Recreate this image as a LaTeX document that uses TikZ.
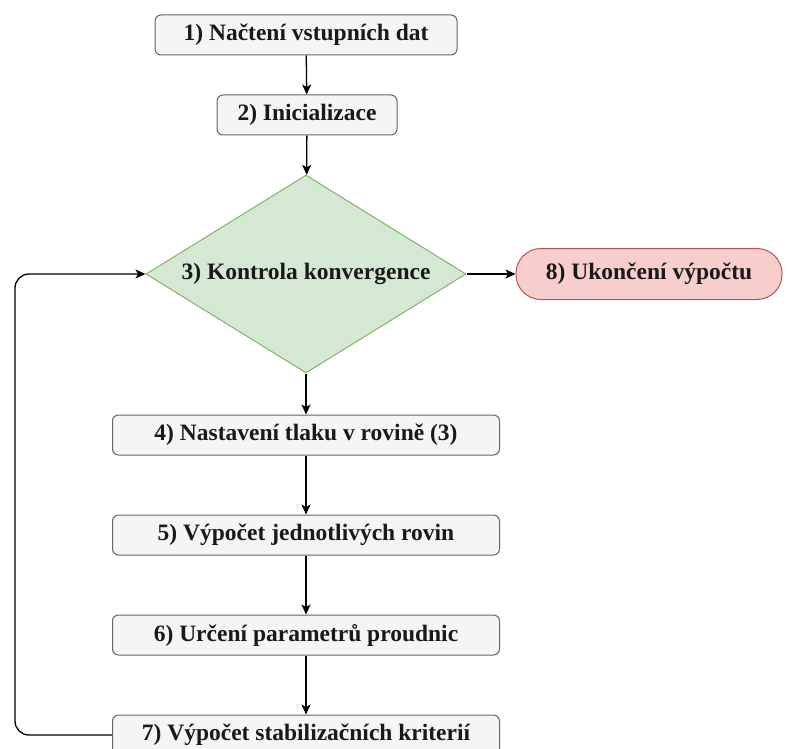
\documentclass[tikz,border=0pt]{standalone}
\usepackage{fontspec}
\setmainfont{Liberation Serif}
\usetikzlibrary{arrows.meta,shapes.geometric}

\definecolor{boxfill}{HTML}{F5F5F5}
\definecolor{boxline}{HTML}{666666}
\definecolor{decfill}{HTML}{D5E8D4}
\definecolor{decline}{HTML}{82B366}
\definecolor{endfill}{HTML}{F8CECC}
\definecolor{endline}{HTML}{B85450}

\begin{document}
\begin{tikzpicture}[
    x=1pt, y=-1pt,
    font=\fontsize{23.5}{28}\selectfont\bfseries,
    every node/.style={text=black!90, inner sep=0pt},
    process/.style={draw=boxline, fill=boxfill, line width=1pt,
      rounded corners=6pt, minimum height=40pt},
    decision/.style={diamond, draw=decline, fill=decfill, line width=1pt,
      minimum width=320pt, minimum height=198pt, shape aspect=1.6},
    terminal/.style={draw=endline, fill=endfill, line width=1pt,
      rounded corners=25pt, minimum width=266pt, minimum height=51pt},
    flow/.style={black, line width=1.3pt,
      -{Stealth[length=10pt,width=9pt,inset=2.5pt]}},
  ]
  \useasboundingbox (0, 0) rectangle (787, 749);

  % Start
  \node[process, minimum width=302pt] (b1) at (306, 35)
    {1) Načtení vstupních dat};
  \node[process, minimum width=180pt] (b2) at (307, 115)
    {2) Inicializace};

  % Convergence check and exit
  \node[decision] (dec) at (306, 274) {3) Kontrola konvergence};
  \node[terminal] (stop) at (649, 274) {8) Ukončení výpočtu};

  % Iteration steps
  \node[process, minimum width=387pt] (b4) at (306, 435)
    {4) Nastavení tlaku v rovině (3)};
  \node[process, minimum width=387pt] (b5) at (306, 535)
    {5) Výpočet jednotlivých rovin};
  \node[process, minimum width=387pt] (b6) at (306, 635)
    {6) Určení parametrů proudnic};
  \node[process, minimum width=387pt] (b7) at (306, 735)
    {7) Výpočet stabilizačních kriterií};

  % Main flow
  \foreach \from/\to in {b1/b2, b2/dec, dec/b4, b4/b5, b5/b6, b6/b7}
    \draw[flow] (\from) -- (\to);
  \draw[flow] (dec) -- (stop);

  % Loop back
  \coordinate (loop) at (15, 0);
  \draw[flow, rounded corners=14pt] (b7.west) -- (b7.west -| loop)
    |- (dec.west);
\end{tikzpicture}
\end{document}
